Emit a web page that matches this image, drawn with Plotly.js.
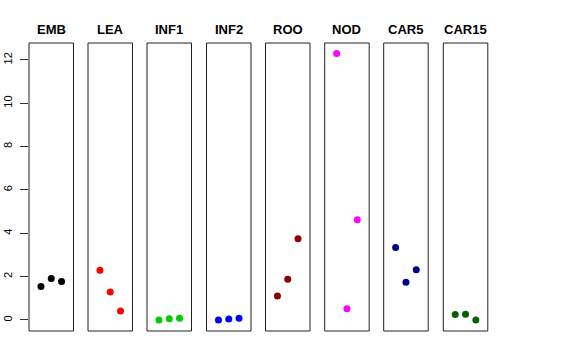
<!DOCTYPE html>
<html>
<head>
<meta charset="utf-8">
<script src="https://cdn.plot.ly/plotly-3.0.1.min.js"></script>
<style>html,body{margin:0;padding:0;background:#fff;}#chart{width:576px;height:360px;}</style>
</head>
<body>
<div id="chart"></div>
<script>
const groups = ["EMB", "LEA", "INF1", "INF2", "ROO", "NOD", "CAR5", "CAR15"];
const xPos = [1, 2, 3];
const vEMB = [1.54, 1.91, 1.78];
const vLEA = [2.29, 1.29, 0.42];
const vINF1 = [0.00, 0.06, 0.08];
const vINF2 = [0.00, 0.05, 0.08];
const vROO = [1.11, 1.88, 3.75];
const vNOD = [12.29, 0.52, 4.62];
const vCAR5 = [3.35, 1.74, 2.32];
const vCAR15 = [0.25, 0.26, 0.00];
const seriesValues = [vEMB, vLEA, vINF1, vINF2, vROO, vNOD, vCAR5, vCAR15];
const colors = ["#000000", "#FF0000", "#00CD00", "#0000FF", "#8B0000", "#FF00FF", "#00008B", "#006400"];
const yTicks = [0, 2, 4, 6, 8, 10, 12];

const W = 576, H = 360;
const leftStarts = [29, 88, 147, 206.5, 265.5, 324.7, 383.7, 443.3];
const panelW = 44.5;
const yTop = 43, yBot = 331;

const data = [];
const layout = {
  width: W, height: H,
  margin: {l: 0, r: 0, t: 0, b: 0},
  paper_bgcolor: "#fff", plot_bgcolor: "rgba(0,0,0,0)",
  showlegend: false,
  font: {family: "Liberation Sans, Arial, sans-serif", color: "#000"},
  shapes: [], annotations: []
};
groups.forEach((g, i) => {
  const ax = i === 0 ? "x" : "x" + (i + 1);
  const axKey = i === 0 ? "xaxis" : "xaxis" + (i + 1);
  data.push({
    type: "scatter", mode: "markers",
    x: xPos, y: seriesValues[i],
    xaxis: ax, yaxis: "y",
    marker: {color: colors[i], size: 7},
    hoverinfo: "skip"
  });
  layout[axKey] = {
    domain: [leftStarts[i] / W, (leftStarts[i] + panelW) / W],
    range: [-0.16, 4.16],
    showgrid: false, zeroline: false, showticklabels: false, ticks: "",
    showline: false, anchor: "y", fixedrange: true
  };
  layout.shapes.push({
    type: "rect", xref: ax + " domain", yref: "y domain",
    x0: 0, x1: 1, y0: 0, y1: 1,
    line: {color: "#222", width: 1}, fillcolor: "rgba(0,0,0,0)"
  });
  layout.annotations.push({
    text: "<b>" + g + "</b>", xref: ax + " domain", yref: "paper",
    x: 0.5, y: 1 - 29 / H, xanchor: "center", yanchor: "middle",
    showarrow: false, font: {size: 13, color: "#000", family: "Liberation Sans, Arial, sans-serif"}
  });
});
layout.yaxis = {
  domain: [1 - yBot / H, 1 - yTop / H],
  range: [-0.508, 12.78],
  tickvals: yTicks, ticktext: yTicks.map(String),
  ticks: "outside", ticklen: 8, tickcolor: "#333", tickwidth: 1,
  tickangle: -90,
  ticklabelstandoff: 4,
  tickfont: {size: 11, color: "#000"},
  showgrid: false, zeroline: false, showline: false,
  anchor: "x", fixedrange: true
};
Plotly.newPlot("chart", data, layout, {staticPlot: true, displayModeBar: false});
</script>
</body>
</html>
